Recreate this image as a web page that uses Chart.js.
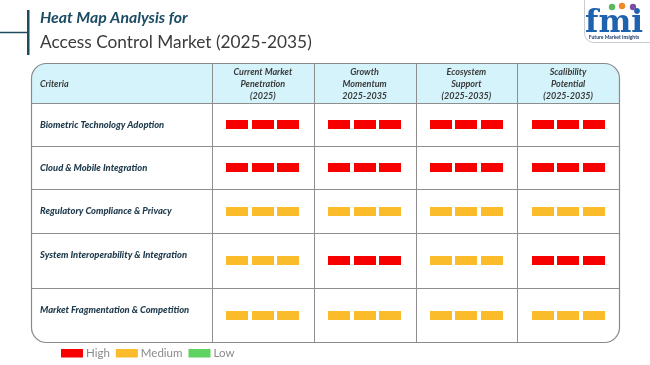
<!DOCTYPE html>
<html>
<head>
<meta charset="utf-8">
<script src="https://cdn.jsdelivr.net/npm/chart.js@4/dist/chart.umd.min.js"></script>
<style>
  html,body{margin:0;padding:0;background:#fff;}
  #wrap{width:650px;height:365px;}
</style>
</head>
<body>
<div id="wrap"><canvas id="c" width="650" height="365"></canvas></div>
<script>
// ---------- DATA ----------
const titleLine1 = "Heat Map Analysis for";
const titleLine2 = "Access Control Market (2025-2035)";
const criteria = [
  "Biometric Technology Adoption",
  "Cloud & Mobile Integration",
  "Regulatory Compliance & Privacy",
  "System Interoperability & Integration",
  "Market Fragmentation & Competition"
];
const columnHeaders = [
  ["Current Market", "Penetration", "(2025)"],
  ["Growth", "Momentum", "2025-2035"],
  ["Ecosystem", "Support", "(2025-2035)"],
  ["Scalibility", "Potential", "(2025-2035)"]
];
const levels = ["High", "Medium", "Low"];
const currentPenetration   = ["High", "High", "Medium", "Medium", "Medium"];
const growthMomentum       = ["High", "High", "Medium", "High",   "Medium"];
const ecosystemSupport     = ["High", "High", "Medium", "Medium", "Medium"];
const scalabilityPotential = ["High", "High", "Medium", "High",   "Medium"];
const ratingColumns = [currentPenetration, growthMomentum, ecosystemSupport, scalabilityPotential];

// ---------- STYLE / LAYOUT ----------
const levelColors = { High: "#f70000", Medium: "#fbbc2c", Low: "#5fd35f" };
const rowHeights = [43, 43, 44, 55, 54];        // layout units (y scale)
const blocksPerCell = 3;
const blockW = 22, blockH = 9, blockGap = 25.5;  // px
const FONT = "Lato, 'Open Sans', sans-serif";

const rowEdges = [0];
rowHeights.forEach(h => rowEdges.push(rowEdges[rowEdges.length - 1] + h));
const totalRows = rowEdges[rowEdges.length - 1];

function blockImage(color) {
  const cv = document.createElement("canvas");
  cv.width = blockW; cv.height = blockH;
  const g = cv.getContext("2d");
  g.fillStyle = color;
  g.fillRect(0, 0, blockW, blockH);
  return cv;
}

const TABLE = { left: 31, top: 63, right: 619, bottom: 342, radius: 15 };
const colPx = (TABLE.right - 212) / 4;
const blockStep = blockGap / colPx; // in column units

const datasets = levels.map(level => {
  const pts = [];
  ratingColumns.forEach((col, ci) => {
    col.forEach((v, ri) => {
      if (v !== level) return;
      const yc = (rowEdges[ri] + rowEdges[ri + 1]) / 2;
      for (let k = 0; k < blocksPerCell; k++) {
        pts.push({ x: ci + 0.5 + (k - 1) * blockStep, y: yc });
      }
    });
  });
  return {
    label: level,
    data: pts,
    pointStyle: blockImage(levelColors[level]),
    pointRadius: 6,
    pointHoverRadius: 6,
    backgroundColor: levelColors[level],
    borderColor: levelColors[level]
  };
});

function roundRectPath(ctx, x0, y0, x1, y1, r, corners) {
  const [tl, tr, br, bl] = corners.map(c => c ? r : 0);
  ctx.beginPath();
  ctx.moveTo(x0 + tl, y0);
  ctx.lineTo(x1 - tr, y0);
  if (tr) ctx.arcTo(x1, y0, x1, y0 + tr, tr);
  ctx.lineTo(x1, y1 - br);
  if (br) ctx.arcTo(x1, y1, x1 - br, y1, br);
  ctx.lineTo(x0 + bl, y1);
  if (bl) ctx.arcTo(x0, y1, x0, y1 - bl, bl);
  ctx.lineTo(x0, y0 + tl);
  if (tl) ctx.arcTo(x0, y0, x0 + tl, y0, tl);
  ctx.closePath();
}

const tablePlugin = {
  id: "tablePlugin",
  beforeDatasetsDraw(chart) {
    const { ctx, chartArea, scales } = chart;
    const xs = scales.x, ys = scales.y;
    const T = TABLE;
    ctx.save();
    // header background
    roundRectPath(ctx, T.left, T.top, T.right, chartArea.top, T.radius, [1, 1, 0, 0]);
    ctx.fillStyle = "#d4f3fb";
    ctx.fill();
    // grid lines
    ctx.strokeStyle = "#8e8e8e";
    ctx.lineWidth = 1;
    ctx.beginPath();
    const vx = [chartArea.left];
    for (let i = 1; i < ratingColumns.length; i++) vx.push(xs.getPixelForValue(i));
    vx.forEach(x => { const px = Math.round(x) + 0.5; ctx.moveTo(px, T.top); ctx.lineTo(px, T.bottom); });
    for (let i = 0; i < rowEdges.length - 1; i++) {
      const py = Math.round(ys.getPixelForValue(rowEdges[i])) + 0.5;
      ctx.moveTo(T.left, py); ctx.lineTo(T.right, py);
    }
    ctx.stroke();
    // outer border
    roundRectPath(ctx, T.left + 0.5, T.top + 0.5, T.right + 0.5, T.bottom + 0.5, T.radius, [1, 1, 1, 1]);
    ctx.strokeStyle = "#8a8a8a";
    ctx.lineWidth = 1.2;
    ctx.stroke();

    // header texts
    ctx.textBaseline = "middle";
    ctx.fillStyle = "#3a3a3a";
    ctx.font = "italic bold 9px " + FONT;
    ctx.textAlign = "left";
    ctx.fillText("Criteria", 40, (T.top + chartArea.top) / 2 + 1);
    ctx.textAlign = "center";
    columnHeaders.forEach((lines, ci) => {
      const cx = xs.getPixelForValue(ci + 0.5);
      const midY = (T.top + chartArea.top) / 2 + 1;
      lines.forEach((ln, li) => {
        ctx.fillText(ln, cx, midY + (li - (lines.length - 1) / 2) * 11.7);
      });
    });
    // row labels
    ctx.textAlign = "left";
    ctx.fillStyle = "#1e3a4c";
    ctx.font = "italic 900 9.4px " + FONT;
    criteria.forEach((c, ri) => {
      const top = ys.getPixelForValue(rowEdges[ri]);
      ctx.fillText(c, 40, top + 21.5);
    });
    ctx.restore();
  },
  afterDraw(chart) {
    const { ctx } = chart;
    ctx.save();
    // title decoration
    ctx.strokeStyle = "#1c4a5e";
    ctx.lineWidth = 1.5;
    ctx.beginPath(); ctx.moveTo(0, 32.5); ctx.lineTo(28, 32.5); ctx.stroke();
    ctx.fillStyle = "#1c4a5e";
    ctx.fillRect(27, 10, 2.5, 45);
    // title
    ctx.textAlign = "left";
    ctx.textBaseline = "alphabetic";
    ctx.fillStyle = "#1b4c63";
    ctx.font = "italic bold 15.8px " + FONT;
    ctx.fillText(titleLine1, 40, 23);
    ctx.fillStyle = "#3b3b3b";
    ctx.font = "17.3px " + FONT;
    ctx.fillText(titleLine2, 40, 48);

    // logo
    roundRectPath(ctx, 584.5, -10, 660, 42.5, 9, [0, 0, 0, 1]);
    ctx.fillStyle = "#ffffff"; ctx.fill();
    ctx.strokeStyle = "#c8cdd4"; ctx.lineWidth = 1; ctx.stroke();
    ctx.fillStyle = "#1f62ad";
    ctx.font = "bold 31px 'DejaVu Serif', serif";
    ctx.textAlign = "center";
    ctx.fillText("fmi", 614, 32);
    [["#5cb85c", 612, 7], ["#f0892a", 622, 6], ["#7b4fa0", 633, 7]].forEach(([c, x, y]) => {
      ctx.beginPath(); ctx.arc(x, y, 3.2, 0, Math.PI * 2); ctx.fillStyle = c; ctx.fill();
    });
    ctx.fillStyle = "#1f3b6b";
    ctx.font = "bold 5px " + FONT;
    ctx.fillText("Future Market Insights", 614, 38.5);

    // legend
    ctx.textAlign = "left";
    ctx.textBaseline = "middle";
    ctx.font = "11.5px " + FONT;
    let lx = 61;
    chart.data.datasets.forEach(ds => {
      ctx.fillStyle = ds.backgroundColor;
      ctx.fillRect(lx, 349, 22, 8.5);
      ctx.fillStyle = "#8a8a8a";
      ctx.fillText(ds.label, lx + 25, 353.5);
      lx += 25 + ctx.measureText(ds.label).width + 6;
    });
    ctx.restore();
  }
};

new Chart(document.getElementById("c"), {
  type: "scatter",
  data: { datasets },
  options: {
    responsive: false,
    animation: false,
    layout: { padding: { left: 212, right: 650 - TABLE.right, top: 103, bottom: 365 - TABLE.bottom } },
    scales: {
      x: { type: "linear", min: 0, max: ratingColumns.length, display: false },
      y: { type: "linear", min: 0, max: totalRows, reverse: true, display: false }
    },
    plugins: { legend: { display: false }, tooltip: { enabled: false } }
  },
  plugins: [tablePlugin]
});
</script>
</body>
</html>
